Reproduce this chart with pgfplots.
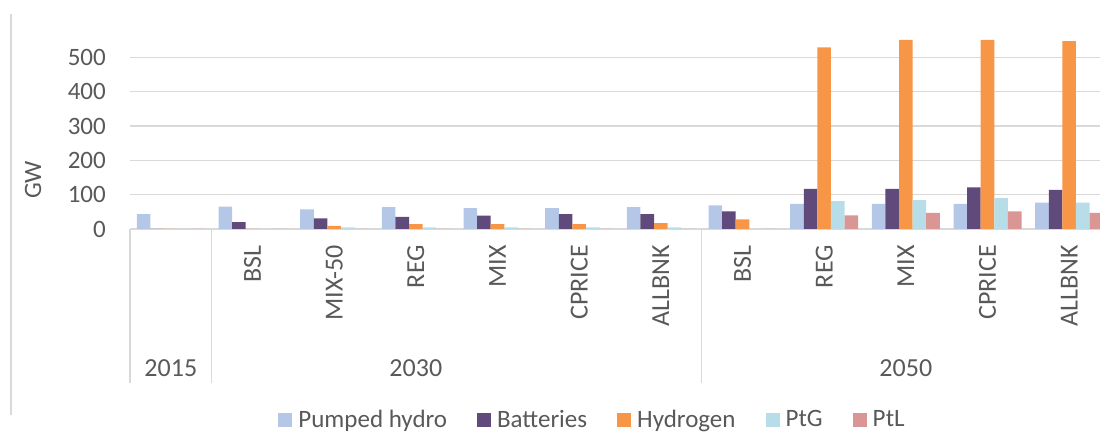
\documentclass[border=0pt]{standalone}
\usepackage{fontspec}
\setmainfont{Carlito}
\usepackage{pgfplots}
\usepackage{pgfplotstable}
\pgfplotsset{compat=1.18}
\definecolor{cPH}{HTML}{B4C7E7}
\definecolor{cBat}{HTML}{604A7B}
\definecolor{cH2}{HTML}{F79646}
\definecolor{cPtG}{HTML}{B7DEE8}
\definecolor{cPtL}{HTML}{DA9694}
\definecolor{gridc}{HTML}{D9D9D9}
\definecolor{txt}{HTML}{595959}

\pgfplotstableread{
x PH Bat H2 PtG PtL
0 43 0 0 0 0
1 65 20 0 0 0
2 57 31 9 5 0
3 64 35 14 5 0
4 61 39 14 5 0
5 61 43 14 5 0
6 64 43 17 5 0
7 69 51 28 0 0
8 73 117 529 81 40
9 73 117 551 84 47
10 73 121 551 90 51
11 77 114 547 77 47
}\data

\begin{document}
\begin{tikzpicture}[x=1pt,y=1pt]
\draw[gridc, line width=1.2pt] (11,18) -- (11,419);
\node[txt, rotate=90, font=\fontsize{25}{25}\selectfont] at (33,253) {GW};
\begin{axis}[
  at={(130pt,204pt)}, anchor=south west,
  width=980pt, height=206pt, scale only axis,
  xmin=-0.5, xmax=11.5, ymin=0, ymax=600,
  ybar=0pt, bar width=13.6pt,
  axis x line=bottom, axis y line=left,
  axis line style={-},
  x axis line style={draw=gridc, line width=1.2pt},
  y axis line style={draw=none},
  major tick length=0pt,
  ytick={0,100,...,500},
  ymajorgrids, grid style={gridc, line width=1.2pt},
  /pgf/number format/assume math mode=true,
  yticklabel style={anchor=east, inner sep=0pt, xshift=-24pt, text=txt, font=\fontsize{25}{25}\selectfont},
  xtick={0,...,11},
  xticklabels={,BSL,MIX-50,REG,MIX,CPRICE,ALLBNK,BSL,REG,MIX,CPRICE,ALLBNK},
  xticklabel style={rotate=90, anchor=east, inner sep=0pt, text=txt, font=\fontsize{26}{26}\selectfont},
  xticklabel shift=16pt,
  clip=false,
  legend columns=5,
  legend style={at={(axis description cs:0.472,-0.925)}, anchor=center, draw=none,
    font=\fontsize{25}{25}\selectfont, text=txt,
    /tikz/every odd column/.append style={column sep=4pt},
    /tikz/every even column/.append style={column sep=28pt}},
  legend image code/.code={\path[#1] (0pt,-7pt) rectangle (14pt,7pt);},
]
\addplot[fill=cPH, draw=none] table[x=x, y=PH] {\data};
\addplot[fill=cBat, draw=none] table[x=x, y=Bat] {\data};
\addplot[fill=cH2, draw=none] table[x=x, y=H2] {\data};
\addplot[fill=cPtG, draw=none] table[x=x, y=PtG] {\data};
\addplot[fill=cPtL, draw=none] table[x=x, y=PtL] {\data};
\legend{Pumped hydro, Batteries, Hydrogen, PtG, PtL}
\draw[gridc, line width=1.2pt] (axis cs:-0.5,0) -- ++(0pt,-154pt);
\draw[gridc, line width=1.2pt] (axis cs:0.5,0) -- ++(0pt,-154pt);
\draw[gridc, line width=1.2pt] (axis cs:6.5,0) -- ++(0pt,-154pt);
\draw[gridc, line width=1.2pt] (axis cs:11.5,0) -- ++(0pt,-154pt);
\node[txt, font=\fontsize{26}{26}\selectfont] at (axis cs:0,0) [yshift=-139pt] {2015};
\node[txt, font=\fontsize{26}{26}\selectfont] at (axis cs:3,0) [yshift=-139pt] {2030};
\node[txt, font=\fontsize{26}{26}\selectfont] at (axis cs:9,0) [yshift=-139pt] {2050};
\end{axis}
\pgfresetboundingbox
\path[use as bounding box] (0,0) rectangle (1100,433);
\end{tikzpicture}
\end{document}
